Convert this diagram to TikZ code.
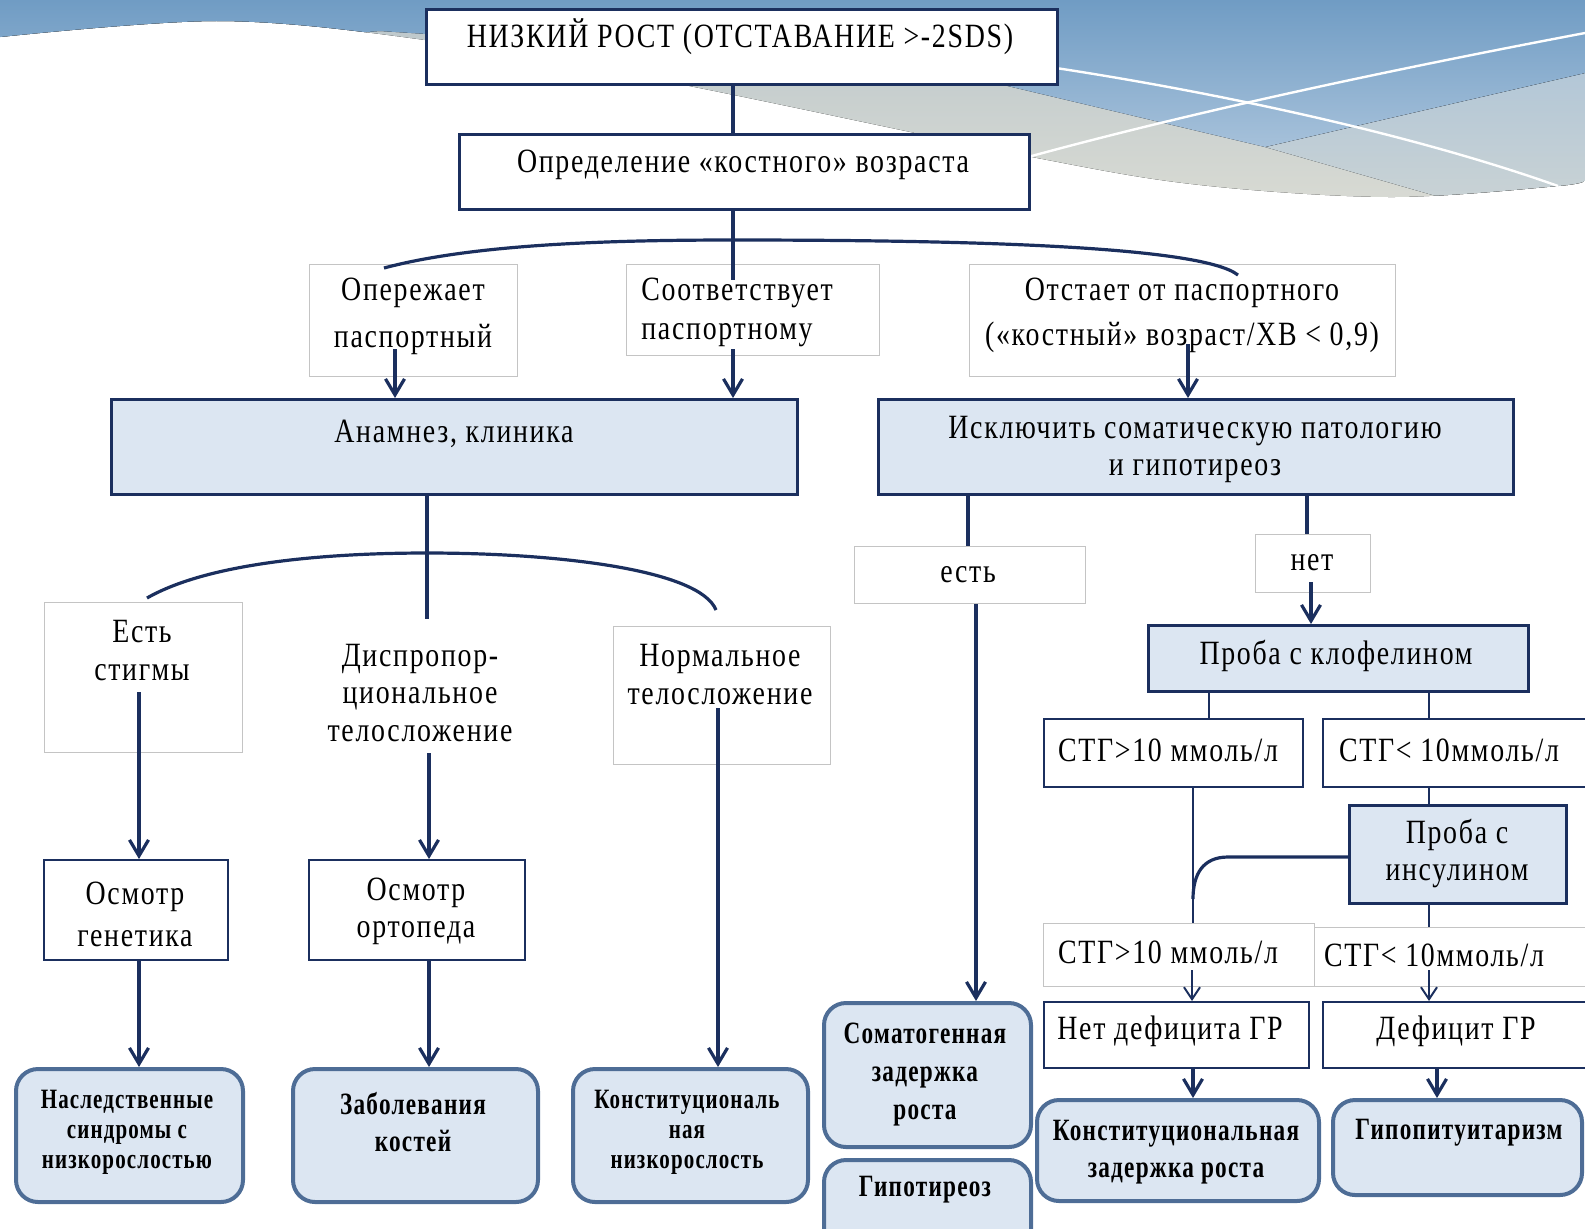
\documentclass[tikz,border=0pt]{standalone}
\usepackage{fontspec}
\setmainfont{Liberation Serif}
\newfontfamily\rf[FakeStretch=0.82,LetterSpace=5]{Liberation Serif}
\newfontfamily\bfc[FakeStretch=0.75,LetterSpace=4]{Liberation Serif}
\usetikzlibrary{arrows.meta}
\definecolor{navy}{HTML}{1B2F5E}
\definecolor{lfill}{HTML}{DCE6F2}
\definecolor{steel}{HTML}{4E6D96}
\definecolor{lgray}{HTML}{C4C4C4}
\definecolor{sky1}{HTML}{709CC4}
\definecolor{sky2}{HTML}{A6C1DA}
\definecolor{band1}{HTML}{BAC6CB}
\definecolor{band2}{HTML}{D8DAD3}
\definecolor{rband}{HTML}{B3C7D7}
\tikzset{
  navybox/.style={draw=navy, fill=white, line width=1.5pt},
  thinbox/.style={draw=navy, fill=white, line width=1.1pt},
  bluebox/.style={draw=navy, fill=lfill, line width=1.6pt},
  lblbox/.style={draw=lgray, fill=white, line width=0.5pt},
  rbox/.style={draw=steel, fill=lfill, line width=2pt, rounded corners=11pt},
  tx/.style={inner sep=0pt, align=center, text=black, font=\rf\fontsize{17pt}{#1}\selectfont},
  tx/.default=19pt,
  bt/.style={inner sep=0pt, align=center, text=black, font=\bfc\bfseries\fontsize{15.5pt}{#1}\selectfont},
  bt/.default=18.5pt,
  bs/.style={inner sep=0pt, align=center, text=black, font=\bfc\bfseries\fontsize{14pt}{#1}\selectfont},
  bs/.default=15pt,
  ln/.style={draw=navy, line width=1.6pt},
  lnt/.style={draw=navy, line width=0.8pt},
  arr/.style={ln, -{Straight Barb[length=8pt,width=9.5pt]}},
  arrt/.style={lnt, -{Straight Barb[length=6pt,width=8pt,line width=1pt]}},
}
\newcommand\mkbox[6]{\node[#1, inner sep=0pt, anchor=north west, minimum width={(#5-#3)*0.5pt}, minimum height={(#6-#4)*0.5pt}] (#2) at (#3,#4) {};}
\begin{document}
\begin{tikzpicture}[x=0.5pt,y=-0.5pt]
\useasboundingbox (0,0) rectangle (1585,1228);
\clip (0,0) rectangle (1585,1228);
% background swoosh
\begin{scope}
  \clip (0,0) -- plot[smooth, tension=0.55] coordinates {(0,37) (220,21) (425,40) (674,83) (1032,157) (1200,185) (1390,197) (1558,186) (1585,180)} -- (1585,0) -- cycle;
  \fill[top color=band1, bottom color=band2] (0,0) rectangle (1585,200);
  \fill[top color=rband, bottom color=band2!60!rband] (1265,147) -- (1585,73) -- (1585,200) -- (1450,200) -- cycle;
  \fill[top color=sky1, bottom color=sky2] (0,0) -- (0,60) -- (380,31) .. controls (600,45) and (850,60) .. (995,83) -- (1265,147) -- (1585,73) -- (1585,0) -- cycle;
\end{scope}
\draw[white, line width=1.2pt] (1056,68) .. controls (1200,90) and (1400,130) .. (1558,186);
\draw[white, line width=1.2pt] (1028,157) .. controls (1200,110) and (1400,68) .. (1585,33);

% boxes
\mkbox{navybox}{top}{425}{8}{1056}{83}
\mkbox{navybox}{def}{458}{133}{1028}{208}
\mkbox{lblbox}{oper}{309}{264}{517}{376}
\mkbox{lblbox}{sootv}{626}{264}{879}{355}
\mkbox{lblbox}{otst}{969}{264}{1395}{376}
\mkbox{bluebox}{anam}{110}{398}{796}{493}
\mkbox{bluebox}{iskl}{877}{398}{1512}{493}
\mkbox{lblbox}{stig}{44}{602}{242}{752}
\mkbox{lblbox}{norm}{613}{626}{830}{764}
\mkbox{thinbox}{gen}{43}{859}{227}{959}
\mkbox{thinbox}{orto}{308}{859}{524}{959}
\mkbox{rbox}{nasl}{14}{1067}{241}{1200}
\mkbox{rbox}{zab}{291}{1067}{536}{1200}
\mkbox{rbox}{konsta}{571}{1067}{806}{1200}
\mkbox{lblbox}{est}{854}{546}{1085}{603}
\mkbox{lblbox}{net}{1255}{534}{1370}{592}
\mkbox{bluebox}{klof}{1147}{624}{1527}{690}
\mkbox{thinbox}{stga}{1043}{718}{1302}{786}
\mkbox{thinbox}{stgb}{1322}{718}{1600}{786}
\mkbox{bluebox}{ins}{1348}{804}{1565}{902}
\mkbox{lblbox}{labd}{1314}{927}{1600}{986}
\mkbox{lblbox}{labc}{1043}{923}{1314}{986}
\mkbox{thinbox}{netdef}{1043}{1001}{1308}{1067}
\mkbox{thinbox}{defgr}{1322}{1001}{1600}{1067}
\mkbox{rbox}{konstb}{1035}{1098}{1317}{1199}
\mkbox{rbox}{gipop}{1331}{1098}{1580}{1193}
\mkbox{rbox}{somat}{822}{1001}{1029}{1145}
\mkbox{rbox}{gipot}{822}{1158}{1029}{1250}

% texts
\node[tx] (top-t) at (740,37) {НИЗКИЙ РОСТ (ОТСТАВАНИЕ >-2SDS)};
\node[tx] (def-t) at (743,165) {Определение «костного» возраста};
\node[tx=23.5pt] (oper-t) at (413,316.5) {Опережает\\паспортный};
\node[tx=19.5pt, align=left, anchor=west] (sootv-t) at (641,312.5) {Соответствует\\паспортному};
\node[tx=22.5pt] (otst-t) at (1182,315.5) {Отстает от паспортного\\(«костный» возраст/ХВ < 0,9)};
\node[tx] (anam-t) at (454,434) {Анамнез, клиника};
\node[tx=18.5pt] (iskl-t) at (1195,449.5) {Исключить соматическую патологию\\и гипотиреоз};
\node[tx] (stig-t) at (142,651) {Есть\\стигмы};
\node[tx=18.75pt] (disp-t) at (420,693) {Диспропор-\\циональное\\телосложение};
\node[tx] (norm-t) at (720,675) {Нормальное\\телосложение};
\node[tx=21pt] (gen-t) at (135,914) {Осмотр\\генетика};
\node[tx=18.5pt] (orto-t) at (416,911.5) {Осмотр\\ортопеда};
\node[bs] (nasl-t) at (127,1132) {Наследственные\\синдромы с\\низкорослостью};
\node[bt] (zab-t) at (413,1122.5) {Заболевания\\костей};
\node[bs] (konsta-t) at (687,1132) {Конституциональ\\ная\\низкорослость};
\node[tx] (est-t) at (968,575) {есть};
\node[tx] (net-t) at (1312,563) {нет};
\node[tx] (klof-t) at (1336,656) {Проба с клофелином};
\node[tx] (stga-t) at (1168,750) {СТГ>10 ммоль/л};
\node[tx] (stgb-t) at (1449,750) {СТГ< 10ммоль/л};
\node[tx=18.5pt] (ins-t) at (1457,853.5) {Проба с\\инсулином};
\node[tx] (labc-t) at (1168,952) {СТГ>10 ммоль/л};
\node[tx] (labd-t) at (1434,955) {СТГ< 10ммоль/л};
\node[tx] (netdef-t) at (1170,1031) {Нет дефицита ГР};
\node[tx] (defgr-t) at (1456,1031) {Дефицит ГР};
\node[bt] (konstb-t) at (1176,1152.5) {Конституциональная\\задержка роста};
\node[bt] (gipop-t) at (1459,1133) {Гипопитуитаризм};
\node[bt=19pt] (somat-t) at (925,1075) {Соматогенная\\задержка\\роста};
\node[bt] (gipot-t) at (925,1190) {Гипотиреоз};

% coordinates for connectors
\coordinate (xa) at (733,0);
\coordinate (arcA) at (733,240);
\coordinate (sEnd) at (733,280);
\coordinate (aOp) at (395,349);
\coordinate (aSo) at (733,349);
\coordinate (aOt) at (1188,344);
\coordinate (xb) at (427,0);
\coordinate (bEnd) at (427,619);
\coordinate (aSt) at (139,692);
\coordinate (aDi) at (429,753);
\coordinate (aNo) at (718,708);
\coordinate (xc) at (968,0);
\coordinate (xd) at (976,0);
\coordinate (xe) at (1307,0);
\coordinate (aNe) at (1311,582);
\coordinate (xf) at (1209,0);
\coordinate (xg) at (1429,0);
\coordinate (xh) at (1193,0);
\coordinate (yc) at (0,857);
\coordinate (aLc) at (1192,970);
\coordinate (aLd) at (1429,970);
\coordinate (xi) at (1437,0);

% connectors
\draw[ln] (top.south -| xa) -- (def.north -| xa);
\draw[ln] (def.south -| xa) -- (sEnd);
\draw[ln] (384,268) .. controls (470,245) and (600,240) .. (arcA) .. controls (950,240) and (1200,245) .. (1238,275);
\draw[arr] (aOp) -- (aOp |- anam.north);
\draw[arr] (aSo) -- (aSo |- anam.north);
\draw[arr] (aOt) -- (aOt |- iskl.north);
\draw[ln] (anam.south -| xb) -- (bEnd);
\draw[ln] (147,598) .. controls (210,562) and (330,553) .. (427,553) .. controls (560,553) and (700,570) .. (716,610);
\draw[arr] (aSt) -- (aSt |- gen.north);
\draw[arr] (aDi) -- (aDi |- orto.north);
\draw[arr] (aNo) -- (aNo |- konsta.north);
\draw[arr] (gen.south -| aSt) -- (nasl.north -| aSt);
\draw[arr] (orto.south -| aDi) -- (zab.north -| aDi);
\draw[ln] (iskl.south -| xc) -- (est.north -| xc);
\draw[arr] (est.south -| xd) -- (somat.north -| xd);
\draw[ln] (iskl.south -| xe) -- (net.north -| xe);
\draw[arr] (aNe) -- (aNe |- klof.north);
\draw[lnt] (klof.south -| xf) -- (stga.north -| xf);
\draw[lnt] (klof.south -| xg) -- (stgb.north -| xg);
\draw[lnt] (stga.south -| xh) -- (labc.north -| xh);
\draw[lnt] (stgb.south -| xg) -- (ins.north -| xg);
\draw[ln] (ins.west |- yc) -- (1228,857) .. controls (1203,857) and (1193,874) .. (1193,899);
\draw[lnt] (ins.south -| xg) -- (labd.north -| xg);
\draw[arrt] (aLc) -- (aLc |- netdef.north);
\draw[arrt] (aLd) -- (aLd |- defgr.north);
\draw[arr] (netdef.south -| xh) -- (konstb.north -| xh);
\draw[arr] (defgr.south -| xi) -- (gipop.north -| xi);
\end{tikzpicture}
\end{document}
